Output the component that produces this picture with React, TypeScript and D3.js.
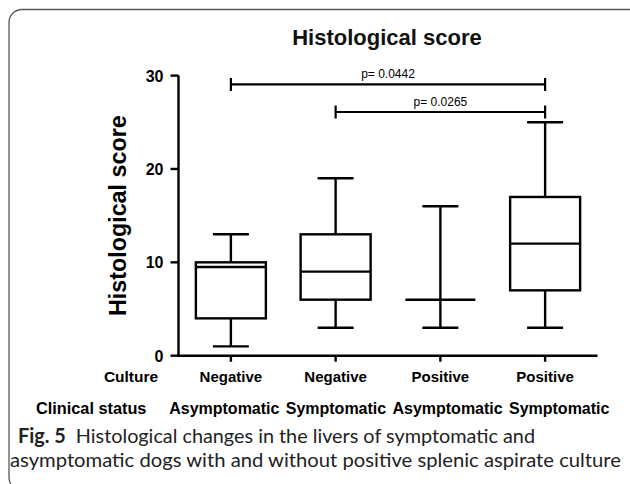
import React from "react";
import * as d3 from "d3";

const culture = ["Negative", "Negative", "Positive", "Positive"];
const clinical = ["Asymptomatic", "Symptomatic", "Asymptomatic", "Symptomatic"];
const mins = [1, 3, 3, 3];
const q1s = [4, 6, 6, 7];
const medians = [9.5, 9, 6, 12];
const q3s = [10, 13, 6, 17];
const maxs = [13, 19, 16, 25];
const yTicks = [0, 10, 20, 30];
const sigFrom = [0, 1];
const sigTo = [3, 3];
const sigLevel = [29.05, 26.1];
const sigLabels = ["p= 0.0442", "p= 0.0265"];

const W = 630;
const H = 484;

export default function App() {
  const idx = culture.map((_, i) => i);
  const x = d3.scaleBand<number>().domain(idx).range([178.5, 597.5]).padding(0);
  const xClin = d3.scaleBand<number>().domain(idx).range([168.5, 615]).padding(0);
  const y = d3.scaleLinear().domain([0, 30]).range([355.7, 75.6]);
  const cx = (i: number) => (x(i) as number) + x.bandwidth() / 2;
  const cxClin = (i: number) => (xClin(i) as number) + xClin.bandwidth() / 2;
  const boxW = 70;
  const capW = 36;
  const sw = 2.4;
  const chartFont = "'Liberation Sans', Arial, sans-serif";
  const capFont = "Lato, 'Open Sans', sans-serif";

  return (
    <svg width={W} height={H} style={{ position: "absolute", left: 0, top: 0 }} fontFamily={chartFont}>
      <rect x={0} y={0} width={W} height={H} fill="#fff" />
      <rect x={9} y={9.5} width={640} height={481} rx={13} fill="none" stroke="#5a5a5a" strokeWidth={1.3} />
      <text x={387} y={45} textAnchor="middle" fontSize={22} fontWeight="bold" fill="#111">
        Histological score
      </text>
      {/* y axis */}
      <line x1={x.range()[0]} x2={x.range()[0]} y1={y(30)} y2={y(0)} stroke="#000" strokeWidth={sw} />
      {yTicks.map((t) => (
        <g key={t}>
          <line x1={x.range()[0] - 8} x2={x.range()[0]} y1={y(t)} y2={y(t)} stroke="#000" strokeWidth={sw} />
          <text x={163.5} y={y(t) + 6} textAnchor="end" fontSize={16} fontWeight="bold" fill="#000">
            {t}
          </text>
        </g>
      ))}
      <text
        transform={`translate(126,${(y(0) + y(30)) / 2}) rotate(-90)`}
        textAnchor="middle"
        fontSize={23.3}
        fontWeight="bold"
        fill="#000"
      >
        Histological score
      </text>
      {/* x axis */}
      <line x1={x.range()[0] - 1.2} x2={x.range()[1]} y1={y(0)} y2={y(0)} stroke="#000" strokeWidth={sw} />
      {idx.map((i) => (
        <line key={i} x1={cx(i)} x2={cx(i)} y1={y(0)} y2={y(0) + 6} stroke="#000" strokeWidth={sw} />
      ))}
      {/* boxes */}
      {idx.map((i) => (
        <g key={i} stroke="#000" strokeWidth={sw} fill="none">
          <line x1={cx(i)} x2={cx(i)} y1={y(maxs[i])} y2={y(q3s[i])} />
          <line x1={cx(i)} x2={cx(i)} y1={y(q1s[i])} y2={y(mins[i])} />
          <line x1={cx(i) - capW / 2} x2={cx(i) + capW / 2} y1={y(maxs[i])} y2={y(maxs[i])} />
          <line x1={cx(i) - capW / 2} x2={cx(i) + capW / 2} y1={y(mins[i])} y2={y(mins[i])} />
          <rect x={cx(i) - boxW / 2} y={y(q3s[i])} width={boxW} height={y(q1s[i]) - y(q3s[i])} />
          <line x1={cx(i) - boxW / 2} x2={cx(i) + boxW / 2} y1={y(medians[i])} y2={y(medians[i])} />
        </g>
      ))}
      {/* significance bars */}
      {sigLabels.map((lab, k) => {
        const x1 = cx(sigFrom[k]);
        const x2 = cx(sigTo[k]);
        const yy = y(sigLevel[k]);
        return (
          <g key={k}>
            <line x1={x1} x2={x2} y1={yy} y2={yy} stroke="#000" strokeWidth={2.2} />
            <line x1={x1} x2={x1} y1={yy - 6.5} y2={yy + 6.5} stroke="#000" strokeWidth={2.2} />
            <line x1={x2} x2={x2} y1={yy - 6.5} y2={yy + 6.5} stroke="#000" strokeWidth={2.2} />
            <text x={(x1 + x2) / 2} y={yy - 6} textAnchor="middle" fontSize={12} fill="#000">
              {lab}
            </text>
          </g>
        );
      })}
      {/* category rows */}
      <text x={131} y={382} textAnchor="middle" fontSize={15.5} fontWeight="bold">Culture</text>
      {idx.map((i) => (
        <text key={i} x={cx(i)} y={382} textAnchor="middle" fontSize={15} fontWeight="bold">
          {culture[i]}
        </text>
      ))}
      <text x={36} y={414} textAnchor="start" fontSize={16.3} fontWeight="bold">Clinical status</text>
      {idx.map((i) => (
        <text key={i} x={cxClin(i)} y={414} textAnchor="middle" fontSize={16} fontWeight="bold">
          {clinical[i]}
        </text>
      ))}
      {/* caption */}
      <text x={18} y={443} fontSize={20} fontFamily={capFont} fill="#222" textLength={517} lengthAdjust="spacingAndGlyphs">
        <tspan fontWeight="bold">Fig. 5</tspan>
        <tspan>{"\u00a0\u00a0Histological changes in the livers of symptomatic and"}</tspan>
      </text>
      <text x={10} y={467} fontSize={20} fontFamily={capFont} fill="#222" textLength={611} lengthAdjust="spacingAndGlyphs">
        asymptomatic dogs with and without positive splenic aspirate culture
      </text>
    </svg>
  );
}
